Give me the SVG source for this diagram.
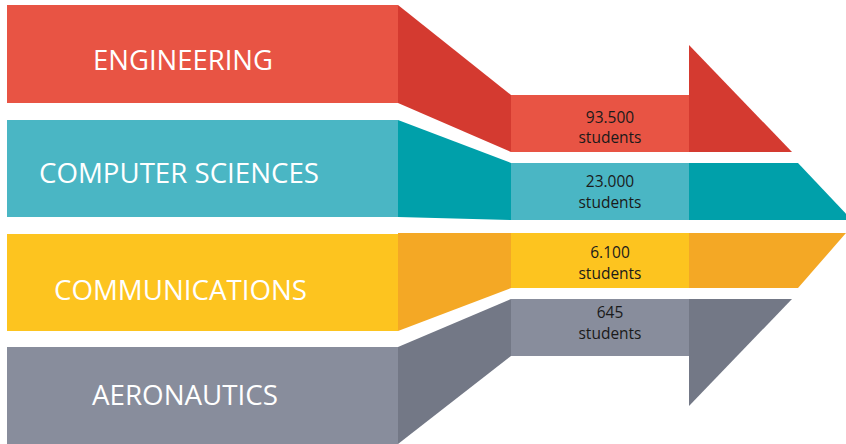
<svg xmlns="http://www.w3.org/2000/svg" width="846" height="444" viewBox="0 0 846 444">
  <style>
    .lbl { font-family: "Open Sans", "Liberation Sans", sans-serif; font-size: 27px; fill: #ffffff; }
    .num { font-family: "Open Sans", "Liberation Sans", sans-serif; font-size: 15.5px; fill: #1a1a1a; text-anchor: middle; }
    .redL { fill: #E85444; } .redD { fill: #D43A30; }
    .tealL { fill: #4AB6C4; } .tealD { fill: #00A0AA; }
    .yelL { fill: #FDC41F; } .yelD { fill: #F4A825; }
    .grayL { fill: #888D9C; } .grayD { fill: #737886; }
  </style>
  <rect width="846" height="444" fill="#ffffff"/>
  <g id="engineering">
    <rect class="redL" x="7" y="5" width="391" height="98"/>
    <polygon class="redD" points="398,5 511,95 511,152 398,103"/>
    <rect class="redL" x="511" y="95" width="178" height="57"/>
    <polygon class="redD" points="689,45 792,152 689,152"/>
    <text class="lbl" x="93" y="70" textLength="180" lengthAdjust="spacingAndGlyphs">ENGINEERING</text>
    <text class="num" x="610" y="123">93.500</text>
    <text class="num" x="610" y="143">students</text>
  </g>
  <g id="computer-sciences">
    <rect class="tealL" x="7" y="120" width="391" height="97"/>
    <polygon class="tealD" points="398,120 511,163 511,220 398,217"/>
    <rect class="tealL" x="511" y="163" width="178" height="57"/>
    <polygon class="tealD" points="689,163 798,163 852,220 689,220"/>
    <text class="lbl" x="39" y="183" textLength="280" lengthAdjust="spacingAndGlyphs">COMPUTER SCIENCES</text>
    <text class="num" x="610" y="187">23.000</text>
    <text class="num" x="610" y="208">students</text>
  </g>
  <g id="communications">
    <rect class="yelL" x="7" y="234" width="391" height="97"/>
    <polygon class="yelD" points="398,233 511,233 511,288 398,331"/>
    <rect class="yelL" x="511" y="233" width="178" height="55"/>
    <polygon class="yelD" points="689,233 846,233 798,288 689,288"/>
    <text class="lbl" x="54" y="300" textLength="253" lengthAdjust="spacingAndGlyphs">COMMUNICATIONS</text>
    <text class="num" x="610" y="258">6.100</text>
    <text class="num" x="610" y="279">students</text>
  </g>
  <g id="aeronautics">
    <rect class="grayL" x="7" y="347" width="391" height="97"/>
    <polygon class="grayD" points="398,347 511,299 511,356 398,444"/>
    <rect class="grayL" x="511" y="299" width="178" height="57"/>
    <polygon class="grayD" points="689,299 792,299 689,406"/>
    <text class="lbl" x="92" y="405" textLength="186" lengthAdjust="spacingAndGlyphs">AERONAUTICS</text>
    <text class="num" x="610" y="318">645</text>
    <text class="num" x="610" y="339">students</text>
  </g>
  <g id="connectors"/>
</svg>
